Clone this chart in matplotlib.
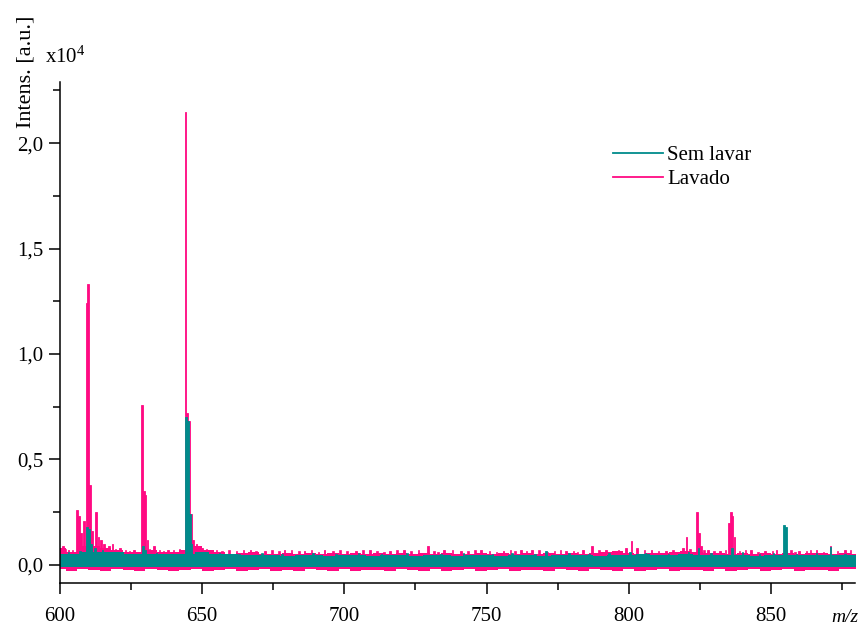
import numpy as np
import matplotlib
matplotlib.use('Agg')
import matplotlib.pyplot as plt
from matplotlib.ticker import MultipleLocator, FuncFormatter
from matplotlib.lines import Line2D

plt.rcParams['font.family'] = ['Liberation Serif', 'DejaVu Serif']
plt.rcParams['font.size'] = 15

# Espectro de massas (intensidade em unidades de 1e4)
cor_sem = '#008b8b'
cor_lav = '#ff0a82'

# Linha de base (ruido) - Lavado, grade de 4 em 4
base_lav_mz = list(range(600, 884, 4))
base_lav_hi = [0.08, 0.06, 0.09, 0.09, 0.08, 0.07, 0.06, 0.06, 0.07, 0.06,
               0.06, 0.07, 0.09, 0.07, 0.06, 0.05, 0.055, 0.06, 0.05, 0.05,
               0.055, 0.05, 0.055, 0.05, 0.055, 0.05, 0.055, 0.05, 0.055, 0.05,
               0.055, 0.05, 0.055, 0.05, 0.055, 0.05, 0.05, 0.055, 0.05, 0.055,
               0.05, 0.055, 0.05, 0.055, 0.05, 0.055, 0.05, 0.055, 0.06, 0.065,
               0.055, 0.05, 0.055, 0.055, 0.06, 0.065, 0.06, 0.055, 0.055, 0.05,
               0.055, 0.05, 0.055, 0.05, 0.055, 0.05, 0.055, 0.055, 0.05, 0.055,
               0.05]
base_lav_lo = [-0.02, -0.028, -0.02, -0.025, -0.028, -0.02, -0.025, -0.028, -0.02, -0.022,
               -0.028, -0.025, -0.02, -0.028, -0.022, -0.02, -0.028, -0.025, -0.02, -0.028,
               -0.022, -0.028, -0.02, -0.025, -0.028, -0.02, -0.028, -0.022, -0.025, -0.028,
               -0.02, -0.025, -0.028, -0.02, -0.028, -0.022, -0.02, -0.028, -0.025, -0.02,
               -0.028, -0.022, -0.025, -0.028, -0.02, -0.025, -0.028, -0.02, -0.022, -0.028,
               -0.02, -0.028, -0.025, -0.02, -0.028, -0.022, -0.025, -0.028, -0.02, -0.028,
               -0.022, -0.02, -0.028, -0.025, -0.02, -0.028, -0.022, -0.025, -0.028, -0.02,
               -0.02]

# Linha de base - Sem lavar, grade de 5 em 5
base_sem_mz = list(range(600, 885, 5))
base_sem_hi = [0.05, 0.05, 0.06, 0.06, 0.06, 0.05, 0.05, 0.05, 0.05, 0.05,
               0.06, 0.05, 0.05, 0.045, 0.045, 0.045, 0.04, 0.045, 0.045, 0.04,
               0.045, 0.045, 0.04, 0.045, 0.045, 0.04, 0.045, 0.045, 0.04, 0.045,
               0.045, 0.04, 0.045, 0.045, 0.04, 0.045, 0.045, 0.045, 0.04, 0.045,
               0.045, 0.05, 0.045, 0.045, 0.05, 0.045, 0.045, 0.045, 0.045, 0.04,
               0.045, 0.045, 0.045, 0.045, 0.045, 0.045, 0.045]
base_sem_lo = [-0.01, -0.01, -0.012, -0.01, -0.01, -0.012, -0.01, -0.01, -0.012, -0.01,
               -0.01, -0.012, -0.01, -0.01, -0.012, -0.01, -0.01, -0.012, -0.01, -0.01,
               -0.012, -0.01, -0.01, -0.012, -0.01, -0.01, -0.012, -0.01, -0.01, -0.012,
               -0.01, -0.01, -0.012, -0.01, -0.01, -0.012, -0.01, -0.01, -0.012, -0.01,
               -0.01, -0.012, -0.01, -0.01, -0.012, -0.01, -0.01, -0.012, -0.01, -0.01,
               -0.012, -0.01, -0.01, -0.012, -0.01, -0.01, -0.012]

# Picos - Lavado
picos_lav_mz = [601, 603, 606.0, 606.6, 607.3, 608.4, 609.3, 609.9, 610.5, 611.2,
                612.6, 613.5, 614.5, 615.5, 617.3, 618.5, 621, 626, 628.8, 629.5,
                630.1, 630.8, 633, 638, 644.1, 644.6, 645.3, 646.0, 646.8, 648,
                650, 653, 667, 672, 679, 686, 693, 704, 709, 716,
                721, 729.4, 735, 741, 748, 756, 762, 766, 778, 784,
                787.1, 792, 799, 801, 803, 808, 813, 819, 820.3, 823.9,
                824.6, 825.3, 828, 832, 835.2, 835.9, 836.5, 837.2, 843, 848,
                852, 855.2, 860, 866, 871, 876]
picos_lav_h = [0.09, 0.07, 0.26, 0.23, 0.15, 0.21, 1.24, 1.33, 0.38, 0.16,
               0.25, 0.13, 0.12, 0.10, 0.09, 0.10, 0.08, 0.07, 0.76, 0.35,
               0.33, 0.12, 0.09, 0.07, 2.15, 0.72, 0.68, 0.24, 0.12, 0.10,
               0.08, 0.07, 0.07, 0.065, 0.07, 0.065, 0.07, 0.065, 0.07, 0.065,
               0.07, 0.09, 0.07, 0.065, 0.07, 0.065, 0.07, 0.07, 0.065, 0.07,
               0.09, 0.07, 0.08, 0.115, 0.08, 0.07, 0.065, 0.08, 0.13, 0.25,
               0.15, 0.09, 0.07, 0.065, 0.20, 0.25, 0.23, 0.13, 0.07, 0.065,
               0.07, 0.07, 0.065, 0.07, 0.09, 0.07]

# Ruido fino - Lavado
ruido_lav_mz = [602, 604.5, 616.5, 619.5, 623, 624.5, 631.5, 635, 636.5, 640,
                642, 651.5, 655, 657, 659.5, 662, 664.5, 669, 674.5, 677,
                681.5, 684, 688.5, 691, 696, 698.5, 701, 706.5, 711.5, 714,
                718.5, 723.5, 726, 731.5, 733, 738, 743.5, 746, 751, 753.5,
                758.5, 760, 764, 768.5, 771.5, 774, 776, 780.5, 782, 789.5,
                794.5, 796.5, 805.5, 810.5, 815.5, 817, 821.5, 826.5, 830, 834,
                839, 841, 845.5, 850.5, 857, 858.5, 862.5, 864, 868.5, 873.5, 878]
ruido_lav_h = [0.075, 0.07, 0.08, 0.075, 0.07, 0.065, 0.075, 0.07, 0.065, 0.07,
               0.075, 0.075, 0.07, 0.065, 0.07, 0.065, 0.07, 0.065, 0.07, 0.065,
               0.07, 0.065, 0.07, 0.06, 0.065, 0.07, 0.065, 0.07, 0.065, 0.06,
               0.07, 0.065, 0.07, 0.065, 0.06, 0.07, 0.065, 0.07, 0.065, 0.06,
               0.07, 0.065, 0.065, 0.07, 0.06, 0.065, 0.07, 0.065, 0.06, 0.07,
               0.065, 0.07, 0.07, 0.065, 0.07, 0.06, 0.075, 0.07, 0.065, 0.07,
               0.065, 0.07, 0.06, 0.065, 0.07, 0.06, 0.065, 0.07, 0.06, 0.065, 0.07]

# Picos - Sem lavar
picos_sem_mz = [609.6, 610.2, 611.0, 612.2, 615, 629.3, 630, 644.3, 645.0, 645.6,
                646.3, 771, 800.5, 824.5, 836.2, 854.6, 855.2, 871]
picos_sem_h = [0.18, 0.17, 0.10, 0.08, 0.07, 0.09, 0.07, 0.70, 0.68, 0.24,
               0.10, 0.068, 0.06, 0.08, 0.08, 0.19, 0.18, 0.085]

# Ruido fino - Sem lavar
ruido_sem_mz = [603, 607, 618, 622, 634, 639, 650, 656, 663, 671, 678, 689,
                697, 705, 713, 722, 734, 742, 752, 759, 767, 779, 786, 793,
                806, 814, 821, 829, 840, 846, 851, 859, 866, 876]
ruido_sem_h = [0.06, 0.065, 0.06, 0.055, 0.055, 0.05, 0.06, 0.055, 0.05, 0.055,
               0.05, 0.055, 0.05, 0.055, 0.05, 0.055, 0.05, 0.055, 0.05, 0.055,
               0.05, 0.055, 0.05, 0.055, 0.055, 0.05, 0.06, 0.055, 0.06, 0.05,
               0.055, 0.05, 0.055, 0.05]

fig = plt.figure(figsize=(8.63, 6.25), dpi=100)
ax = fig.add_axes([0.0695, 0.0672, 0.921, 0.8016])

# Lavado por baixo, Sem lavar por cima
ax.fill_between(base_lav_mz, base_lav_lo, base_lav_hi, step='mid', color=cor_lav, lw=0)
ax.bar(picos_lav_mz, picos_lav_h, width=0.6, color=cor_lav, edgecolor=cor_lav, lw=0.6)
ax.bar(ruido_lav_mz, ruido_lav_h, width=0.5, color=cor_lav, edgecolor=cor_lav, lw=0.5)
ax.fill_between(base_sem_mz, base_sem_lo, base_sem_hi, step='mid', color=cor_sem, lw=0)
ax.bar(picos_sem_mz, picos_sem_h, width=0.6, color=cor_sem, edgecolor=cor_sem, lw=0.6)
ax.bar(ruido_sem_mz, ruido_sem_h, width=0.5, color=cor_sem, edgecolor=cor_sem, lw=0.5)

ax.set_xlim(600, 879.5)
ax.set_ylim(-0.086, 2.29)

for s in ['top', 'right']:
    ax.spines[s].set_visible(False)
for s in ['left', 'bottom']:
    ax.spines[s].set_linewidth(1.1)

ax.xaxis.set_major_locator(MultipleLocator(50))
ax.xaxis.set_minor_locator(MultipleLocator(25))
ax.yaxis.set_major_locator(MultipleLocator(0.5))
ax.yaxis.set_minor_locator(MultipleLocator(0.25))
ax.yaxis.set_major_formatter(FuncFormatter(lambda v, p: f'{v:.1f}'.replace('.', ',')))
ax.tick_params(which='major', direction='out', length=8, width=1.1, pad=4, labelsize=15)
ax.tick_params(which='minor', direction='out', length=5, width=1.1)
ax.tick_params(axis='x', which='major', pad=9)

leg_handles = [Line2D([0], [0], color=cor_sem, lw=1.3),
               Line2D([0], [0], color=cor_lav, lw=1.3)]
ax.legend(leg_handles, ['Sem lavar', 'Lavado'], loc='upper left',
          bbox_to_anchor=(0.672, 0.91), frameon=False,
          handlelength=2.4, handletextpad=0.2, labelspacing=0.2, fontsize=15)

fig.text(0.030, 1 - 72 / 625, 'Intens. [a.u.]', rotation=90, ha='center', va='center', fontsize=16)
fig.text(45 / 863, 1 - 57 / 625, r'x10$\mathregular{^4}$', ha='left', va='center', fontsize=15)
fig.text(845 / 863, 1 - 618 / 625, 'm/z', style='italic', ha='center', va='center', fontsize=14)

fig.savefig('out.png', dpi=100)
